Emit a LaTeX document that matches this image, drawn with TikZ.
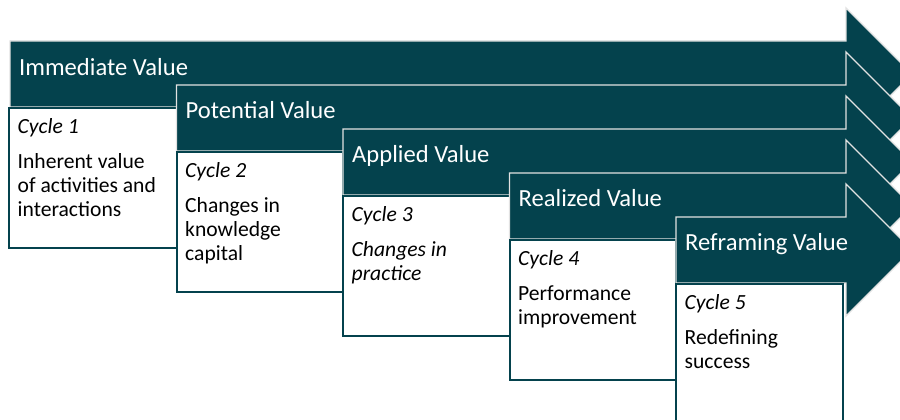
\documentclass[tikz,border=0pt]{standalone}
\usepackage{fontspec}
\setmainfont{Carlito}
\definecolor{tealdark}{RGB}{4,66,77}
\definecolor{edgegray}{RGB}{226,226,226}
\newcommand\valuearrow[2]{%
  \path[arrowshape] ({#1},{#2}) -- (846,{#2}) -- (846,{#2-33}) -- (912,{#2+33})
    -- (846,{#2+99}) -- (846,{#2+66}) -- ({#1},{#2+66}) -- cycle;}
\newcommand\cyclebox[3]{%
  \path[cycleframe] ({#1},{#3}) rectangle ({#2},{#3+140});}
\begin{document}
\begin{tikzpicture}[x=1pt,y=-1pt,
  arrowshape/.style={fill=tealdark, draw=edgegray, line width=1.3pt, line join=miter},
  cycleframe/.style={fill=white, draw=tealdark, line width=2pt},
  arrowlabel/.style={anchor=base west, inner sep=0pt, text=white, font=\fontsize{24.6}{29}\selectfont},
  cyclelabel/.style={anchor=base west, inner sep=0pt, font=\fontsize{21.6}{24}\selectfont\itshape},
  desc/.style={anchor=base west, inner sep=0pt, font=\fontsize{21.6}{24}\selectfont},
  descit/.style={desc, font=\fontsize{21.6}{24}\selectfont\itshape},
]
\useasboundingbox (0,0) rectangle (900,420);
\clip (0,0) rectangle (900,420);
\fill[white] (0,0) rectangle (900,420);

% Arrow 1 and box 1
\valuearrow{10}{41}
\node[arrowlabel] (a1) at (19,75) {Immediate Value};
\cyclebox{9}{176.5}{108}
\node[cyclelabel] (c1) at (17.5,133) {Cycle 1};
\node[desc] (d1a) at (17.5,168.5) {Inherent value};
\node[desc] (d1b) at (17.5,192.5) {of activities and};
\node[desc] (d1c) at (17.5,216.5) {interactions};

% Arrow 2 and box 2
\valuearrow{176.5}{85}
\node[arrowlabel] (a2) at (185.5,118.5) {Potential Value};
\cyclebox{176.5}{343}{152}
\node[cyclelabel] (c2) at (185,177) {Cycle 2};
\node[desc] (d2a) at (185,212.5) {Changes in};
\node[desc] (d2b) at (185,236.5) {knowledge};
\node[desc] (d2c) at (185,260.5) {capital};

% Arrow 3 and box 3
\valuearrow{343}{129}
\node[arrowlabel] (a3) at (352,162.5) {Applied Value};
\cyclebox{343}{509.5}{196}
\node[cyclelabel] (c3) at (351.5,221) {Cycle 3};
\node[descit] (d3a) at (351.5,256.5) {Changes in};
\node[descit] (d3b) at (351.5,280.5) {practice};

% Arrow 4 and box 4
\valuearrow{509.5}{173}
\node[arrowlabel] (a4) at (518.5,206) {Realized Value};
\cyclebox{509.5}{676}{240}
\node[cyclelabel] (c4) at (518,265) {Cycle 4};
\node[desc] (d4a) at (518,300.5) {Performance};
\node[desc] (d4b) at (518,324.5) {improvement};

% Arrow 5 and box 5
\valuearrow{676}{217}
\node[arrowlabel] (a5) at (685,250) {Reframing Value};
\cyclebox{676}{843}{284}
\node[cyclelabel] (c5) at (684.5,309) {Cycle 5};
\node[desc] (d5a) at (684.5,344.5) {Redefining};
\node[desc] (d5b) at (684.5,368.5) {success};
\end{tikzpicture}
\end{document}
